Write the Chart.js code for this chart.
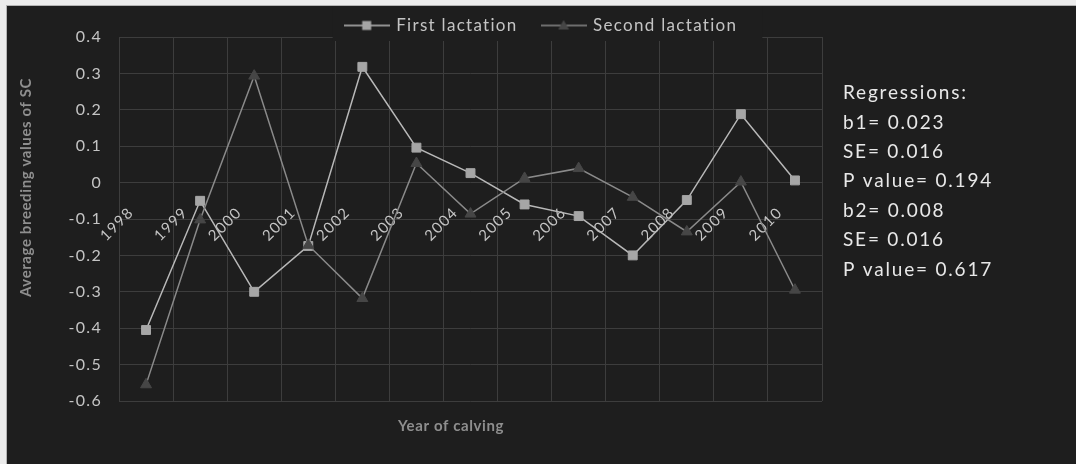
<!DOCTYPE html>
<html>
<head>
<meta charset="utf-8">
<title>Average breeding values of SC by year of calving</title>
<script src="https://cdn.jsdelivr.net/npm/chart.js@4.4.1/dist/chart.umd.min.js"></script>
<style>
  html, body { margin: 0; padding: 0; background: #ececec; width: 1076px; height: 464px; overflow: hidden; }
  #frame { position: absolute; left: 6px; top: 5px; border-left: 1px solid #b4b4b4; border-top: 1px solid #b4b4b4; }
  canvas { display: block; background: #1e1e1e; }
</style>
</head>
<body>
<div id="frame"><canvas id="chart" width="1069" height="458"></canvas></div>
<script>
// Years of calving (category axis)
const years = ['1998', '1999', '2000', '2001', '2002', '2003', '2004', '2005', '2006', '2007', '2008', '2009', '2010'];

// Average breeding values of SC per year
const firstLactation = [-0.405, -0.05, -0.30, -0.174, 0.318, 0.096, 0.026, -0.06, -0.092, -0.20, -0.048, 0.188, 0.006];
const secondLactation = [-0.555, -0.102, 0.293, -0.172, -0.318, 0.053, -0.086, 0.012, 0.039, -0.04, -0.135, 0.002, -0.295];

// Value axis ticks
const yTickValues = [-0.6, -0.5, -0.4, -0.3, -0.2, -0.1, 0, 0.1, 0.2, 0.3, 0.4];
const yTickLabels = ['-0.6', '-0.5', '-0.4', '-0.3', '-0.2', '-0.1', '0', '0.1', '0.2', '0.3', '0.4'];

// Regression summary printed beside the plot
const regressionLines = ['Regressions:', 'b1= 0.023', 'SE= 0.016', 'P value= 0.194', 'b2= 0.008', 'SE= 0.016', 'P value= 0.617'];

const xTitle = 'Year of calving';
const yTitle = 'Average breeding values of SC';

const FONT = 'Lato';
const bgColor = '#1e1e1e';
const tickColor = '#c4c4c4';
const gridColor = '#3d3d3d';
const titleColor = '#8e8e8e';

const styles = [
  { label: 'First lactation', line: '#b8b8b8', marker: '#a6a6a6', shape: 'rect' },
  { label: 'Second lactation', line: '#8a8a8a', marker: '#464646', shape: 'triangle' }
];

// Legend icon: a short line segment with the series marker in the middle
function legendIcon(s) {
  const c = document.createElement('canvas');
  c.width = 46; c.height = 14;
  const g = c.getContext('2d');
  g.strokeStyle = s.line; g.lineWidth = 1.5;
  g.beginPath(); g.moveTo(0, 7); g.lineTo(46, 7); g.stroke();
  g.fillStyle = s.marker;
  if (s.shape === 'rect') {
    g.fillRect(18.5, 2.5, 9, 9);
  } else {
    g.beginPath(); g.moveTo(23, 1.5); g.lineTo(28.5, 11); g.lineTo(17.5, 11); g.closePath(); g.fill();
  }
  return c;
}
const legendIcons = styles.map(legendIcon);

// Wider tracking for all chart text, legend placement, side annotations and axis titles
const textPlugin = {
  id: 'sideText',
  beforeUpdate(chart) {
    chart.ctx.letterSpacing = '1.3px';
  },
  afterLayout(chart) {
    // let the legend sit slightly over the top edge of the plot
    chart.legend.top += 7;
    chart.legend.bottom += 7;
  },
  afterDraw(chart) {
    const { ctx, chartArea, legend } = chart;

    // opaque legend box over the top of the grid, then the legend again on it
    const boxes = legend.legendHitBoxes;
    const left = Math.min(...boxes.map(b => b.left)) - 13;
    const right = Math.max(...boxes.map(b => b.left + b.width)) + 25;
    ctx.save();
    ctx.fillStyle = bgColor;
    ctx.fillRect(left, 0, right - left, chartArea.top + 4);
    ctx.restore();
    legend.draw();

    ctx.save();
    ctx.letterSpacing = '1.8px';
    ctx.fillStyle = '#e8e8e8';
    ctx.font = '19px ' + FONT;
    ctx.textAlign = 'left';
    ctx.textBaseline = 'middle';
    regressionLines.forEach((t, i) => {
      ctx.fillText(t, chartArea.right + 21, chartArea.top + 56 + i * 29.4);
    });
    ctx.letterSpacing = '0.6px';
    ctx.fillStyle = titleColor;
    ctx.font = 'bold 15px ' + FONT;
    ctx.textAlign = 'center';
    ctx.fillText(xTitle, chartArea.left + 332, chartArea.bottom + 25);
    ctx.translate(19, chartArea.top + 150.5);
    ctx.rotate(-Math.PI / 2);
    ctx.fillText(yTitle, 0, 0);
    ctx.restore();
  }
};

const datasets = [firstLactation, secondLactation].map((values, i) => ({
  label: styles[i].label,
  data: values,
  borderColor: styles[i].line,
  borderWidth: 1.5,
  pointStyle: styles[i].shape,
  pointRadius: 6.3,
  pointHoverRadius: 6.3,
  pointBackgroundColor: styles[i].marker,
  pointBorderColor: styles[i].marker,
  pointBorderWidth: 1,
  tension: 0,
  fill: false,
  order: 1 - i
}));

new Chart(document.getElementById('chart'), {
  type: 'line',
  data: { labels: years, datasets },
  plugins: [textPlugin],
  options: {
    responsive: false,
    animation: false,
    devicePixelRatio: 1,
    layout: { padding: { left: 0, right: 0, top: -21, bottom: 63 } },
    plugins: {
      tooltip: { enabled: false },
      legend: {
        position: 'top',
        labels: {
          usePointStyle: true,
          pointStyleWidth: 42,
          padding: 25,
          color: tickColor,
          font: { family: FONT, size: 17 },
          generateLabels: chart => chart.data.datasets.map((ds, i) => ({
            text: ds.label,
            pointStyle: legendIcons[i],
            fontColor: tickColor,
            fillStyle: 'transparent',
            strokeStyle: 'transparent',
            lineWidth: 0,
            hidden: false,
            datasetIndex: i
          }))
        }
      }
    },
    scales: {
      x: {
        type: 'category',
        offset: true,
        position: { y: 0 },
        grid: { offset: true, color: gridColor, lineWidth: 1, drawTicks: false },
        border: { display: false },
        ticks: {
          autoSkip: false,
          minRotation: 45,
          maxRotation: 45,
          padding: 21,
          labelOffset: -15,
          color: tickColor,
          font: { family: FONT, size: 15 }
        }
      },
      y: {
        min: -0.6,
        max: 0.4,
        afterFit: s => { s.width = 112; },
        afterBuildTicks: s => { s.ticks = yTickValues.map(v => ({ value: v })); },
        grid: { color: gridColor, lineWidth: 1, drawTicks: false },
        border: { display: false },
        ticks: {
          padding: 17,
          color: tickColor,
          font: { family: FONT, size: 16 },
          callback: (v, i) => yTickLabels[i]
        }
      },
      // empty right-hand band that holds the regression summary
      side: {
        type: 'linear',
        position: 'right',
        display: true,
        afterFit: s => { s.width = 254; },
        grid: { display: false, drawTicks: false },
        border: { display: false },
        ticks: { display: false }
      }
    }
  }
});
</script>
</body>
</html>
